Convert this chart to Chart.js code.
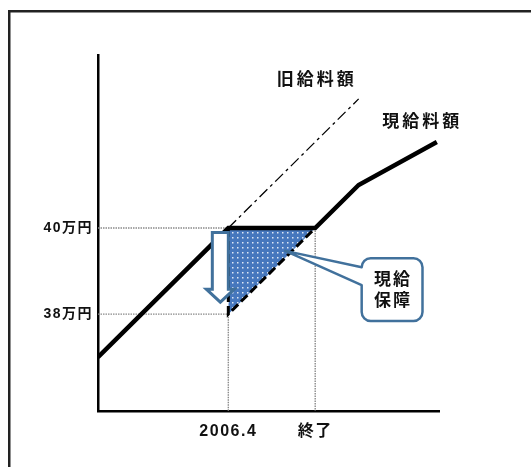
<!DOCTYPE html>
<html>
<head>
<meta charset="utf-8">
<script src="https://cdn.jsdelivr.net/npm/chart.js@4"></script>
<style>
  html, body { margin: 0; padding: 0; background: #fff; overflow: hidden; }
  canvas { display: block; }
</style>
</head>
<body>
<canvas id="c" width="531" height="467"></canvas>
<script>
// Axis ticks
const xTickValues = [3, 5];
const xTickLabels = ['2006.4', '終了'];
const yTickValues = [38, 40];
const yTickLabels = ['38万円', '40万円'];

// Salary lines (x: elapsed time, y: 万円)
const currentX = [0, 3, 5, 6, 7.8];
const currentY = [37, 40, 40, 41, 42];
const oldX = [3, 6];
const oldY = [40, 43];
const reducedX = [3, 3, 5];
const reducedY = [40, 38, 40];
const guaranteedLevel = 40;

// Text
const oldLabel = '旧給料額';
const currentLabel = '現給料額';
const calloutLines = ['現給', '保障'];

const X_MIN = 0, X_MAX = 7.85, Y_MIN = 35.75, Y_MAX = 44.02;

const toPoints = (xs, ys) => xs.map((x, i) => ({ x, y: ys[i] }));

// dotted blue fill for the guaranteed band
function dotPattern() {
  const tile = document.createElement('canvas');
  tile.width = 5; tile.height = 5;
  const t = tile.getContext('2d');
  t.fillStyle = '#4677bd';
  t.fillRect(0, 0, 5, 5);
  t.fillStyle = '#dfe8f5';
  t.fillRect(2, 2, 1.5, 1.5);
  return t.createPattern(tile, 'repeat');
}

const refLine = {
  borderColor: '#8a8a8a', borderWidth: 1.4, borderDash: [1.5, 1],
  pointRadius: 0, fill: false, tension: 0
};

const datasets = [
  { // current salary
    data: toPoints(currentX, currentY),
    borderColor: '#000', borderWidth: 4.5, pointRadius: 0, fill: false,
    borderCapStyle: 'butt', borderJoinStyle: 'miter', tension: 0
  },
  { // reduced salary with guaranteed band
    data: toPoints(reducedX, reducedY),
    borderColor: '#000', borderWidth: 3, borderDash: [9, 4], pointRadius: 0,
    fill: { value: guaranteedLevel }, backgroundColor: dotPattern(), tension: 0
  },
  { // old salary
    data: toPoints(oldX, oldY),
    borderColor: '#000', borderWidth: 1.3, borderDash: [11, 4, 3, 4],
    pointRadius: 0, fill: false, tension: 0
  },
  Object.assign({ data: [{ x: X_MIN, y: yTickValues[1] }, { x: xTickValues[0], y: yTickValues[1] }] }, refLine),
  Object.assign({ data: [{ x: X_MIN, y: yTickValues[0] }, { x: xTickValues[0], y: yTickValues[0] }] }, refLine),
  Object.assign({ data: [{ x: xTickValues[0], y: yTickValues[0] }, { x: xTickValues[0], y: Y_MIN }] }, refLine),
  Object.assign({ data: [{ x: xTickValues[1], y: yTickValues[1] }, { x: xTickValues[1], y: Y_MIN }] }, refLine)
];

const tickFont = { family: '"Liberation Sans", "Noto Sans CJK JP", sans-serif', weight: 'bold' };

// outer frame + letter spacing for tick text
const framePlugin = {
  id: 'frame',
  beforeDraw(chart) {
    const ctx = chart.ctx;
    ctx.save();
    ctx.fillStyle = '#222';
    ctx.fillRect(8, 10, 531, 2.5);
    ctx.fillRect(8, 10, 2.5, 467);
    ctx.restore();
    ctx.letterSpacing = '1.5px';
  },
  afterDraw(chart) {
    chart.ctx.letterSpacing = '0px';
  }
};

// arrow, callout and series labels
const notesPlugin = {
  id: 'notes',
  afterDatasetsDraw(chart) {
    const ctx = chart.ctx;
    const xs = chart.scales.x, ys = chart.scales.y;
    const px = v => xs.getPixelForValue(v);
    const py = v => ys.getPixelForValue(v);

    // downward hollow arrow at the drop point
    const cx = px(xTickValues[0]) - 8;
    const top = py(yTickValues[1]) + 4.5;
    const tip = py(yTickValues[0]) - 12;
    const sh = 8, hh = 14, headH = 13;
    ctx.save();
    ctx.beginPath();
    ctx.moveTo(cx - sh, top);
    ctx.lineTo(cx + sh, top);
    ctx.lineTo(cx + sh, tip - headH);
    ctx.lineTo(cx + hh, tip - headH);
    ctx.lineTo(cx, tip);
    ctx.lineTo(cx - hh, tip - headH);
    ctx.lineTo(cx - sh, tip - headH);
    ctx.closePath();
    ctx.fillStyle = '#fff';
    ctx.fill();
    ctx.strokeStyle = '#41719c';
    ctx.lineWidth = 3;
    ctx.lineJoin = 'miter';
    ctx.stroke();
    ctx.restore();

    // callout bubble pointing into the band
    const tx = px(4.31), ty = py(39.47);
    const L = px(6.07), R = px(7.47), T = py(39.3), B = py(37.84);
    const r = 9;
    const p1 = T + 9, p2 = T + 27;
    ctx.save();
    ctx.beginPath();
    ctx.moveTo(L + r, T);
    ctx.lineTo(R - r, T);
    ctx.arcTo(R, T, R, T + r, r);
    ctx.lineTo(R, B - r);
    ctx.arcTo(R, B, R - r, B, r);
    ctx.lineTo(L + r, B);
    ctx.arcTo(L, B, L, B - r, r);
    ctx.lineTo(L, p2);
    ctx.lineTo(tx, ty);
    ctx.lineTo(L, p1);
    ctx.lineTo(L, T + r);
    ctx.arcTo(L, T, L + r, T, r);
    ctx.closePath();
    ctx.fillStyle = '#fff';
    ctx.fill();
    ctx.strokeStyle = '#41719c';
    ctx.lineWidth = 2.5;
    ctx.lineJoin = 'round';
    ctx.stroke();

    ctx.fillStyle = '#111';
    ctx.textAlign = 'center';
    ctx.textBaseline = 'middle';
    ctx.letterSpacing = '2px';
    ctx.font = 'bold 17px "Noto Sans CJK JP", sans-serif';
    const mx = (L + R) / 2 + 1, my = (T + B) / 2;
    ctx.fillText(calloutLines[0], mx, my - 11);
    ctx.fillText(calloutLines[1], mx, my + 10);

    // series labels
    ctx.letterSpacing = '3px';
    ctx.font = 'bold 17px "Noto Sans CJK JP", sans-serif';
    ctx.fillText(oldLabel, px(5.0) + 1.5, py(43.47));
    ctx.fillText(currentLabel, px(7.43) + 1.5, py(42.49));
    ctx.restore();
  }
};

new Chart(document.getElementById('c'), {
  type: 'line',
  data: { datasets },
  options: {
    responsive: false,
    animation: false,
    events: [],
    layout: { padding: { left: 0, top: 55, right: 92, bottom: 0 } },
    plugins: { legend: { display: false }, tooltip: { enabled: false } },
    scales: {
      x: {
        type: 'linear', min: X_MIN, max: X_MAX,
        grid: { display: false, drawTicks: false },
        border: { display: true, color: '#000', width: 2.5 },
        afterFit(s) { s.height = 56; },
        afterBuildTicks(s) { s.ticks = xTickValues.map(v => ({ value: v })); },
        ticks: {
          autoSkip: false, maxRotation: 0, padding: 11, color: '#111',
          font: Object.assign({ size: 16 }, tickFont),
          callback: v => xTickLabels[xTickValues.indexOf(v)]
        }
      },
      y: {
        type: 'linear', min: Y_MIN, max: Y_MAX,
        grid: { display: false, drawTicks: false },
        border: { display: true, color: '#000', width: 2.5 },
        afterFit(s) { s.width = 98; },
        afterBuildTicks(s) { s.ticks = yTickValues.map(v => ({ value: v })); },
        ticks: {
          padding: 5, color: '#111',
          font: Object.assign({ size: 14 }, tickFont),
          callback: v => yTickLabels[yTickValues.indexOf(v)]
        }
      }
    }
  },
  plugins: [framePlugin, notesPlugin]
});
</script>
</body>
</html>
